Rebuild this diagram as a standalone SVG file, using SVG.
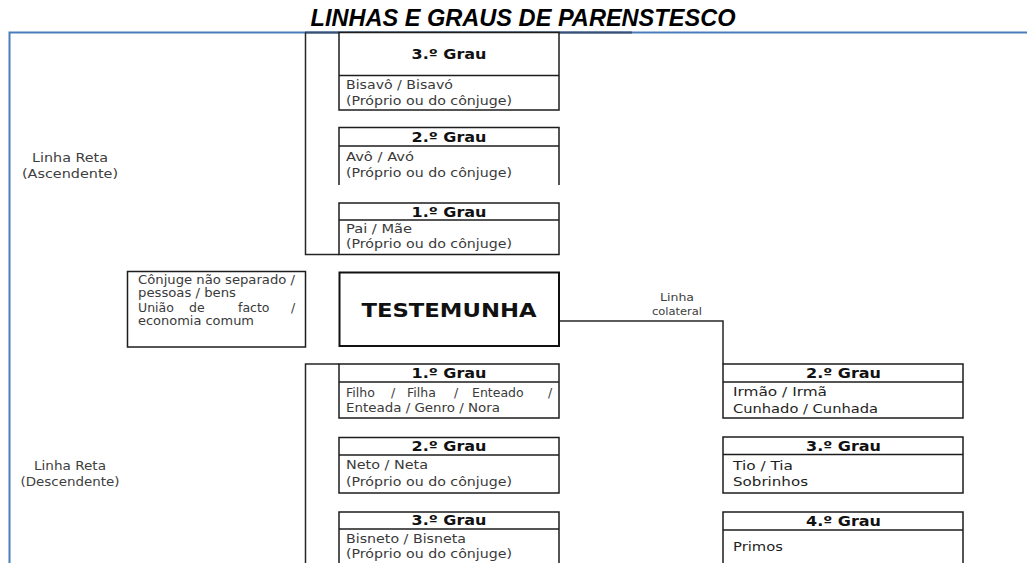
<svg xmlns="http://www.w3.org/2000/svg" width="1027" height="563" viewBox="0 0 1027 563">
<style>
.box{fill:#fff;stroke:#1c1c1c;stroke-width:1.5}
.open{fill:none;stroke:#1c1c1c;stroke-width:1.5}
.div{stroke:#1c1c1c;stroke-width:1.3}
.conn{fill:none;stroke:#262626;stroke-width:1.5}
.hdr{font-family:"DejaVu Sans",Verdana,sans-serif;font-weight:bold;font-size:14px;fill:#111;text-anchor:middle}
.body{font-family:"DejaVu Sans",Verdana,sans-serif;font-size:12.5px;fill:#3a3a3a}
.cbody{font-family:"DejaVu Sans",Verdana,sans-serif;font-size:13px;fill:#1e1e1e}
.lbl{font-family:"DejaVu Sans",Verdana,sans-serif;font-size:12.5px;fill:#404040;text-anchor:middle}
.small{font-family:"DejaVu Sans",Verdana,sans-serif;font-size:10.5px;fill:#404040;text-anchor:middle}
.title{font-family:"Liberation Sans",Arial,sans-serif;font-weight:bold;font-style:italic;font-size:23px;fill:#000;text-anchor:middle}
</style>
<rect x="0" y="0" width="1027" height="563" fill="#fff"/>
<g id="frame">
<path d="M9.5,563 V32.5 H1027" fill="none" stroke="#4a7ebb" stroke-width="2"/>
<line x1="305" y1="32.5" x2="632" y2="32.5" stroke="#3a5070" stroke-width="2"/>
</g>
<g id="title"><text class="title" x="523" y="26" textLength="425" lengthAdjust="spacingAndGlyphs">LINHAS E GRAUS DE PARENSTESCO</text></g>
<g id="connectors">
<path class="conn" d="M305.5,32.5 V254.5 H339"/>
<path class="conn" d="M339,364 H305.5 V563"/>
<path class="conn" d="M559,321 H723 V364"/>
</g>
<g id="label-ascendente">
<text class="lbl" x="70" y="161.5" textLength="76" lengthAdjust="spacingAndGlyphs">Linha Reta</text>
<text class="lbl" x="70" y="177.5" textLength="96" lengthAdjust="spacingAndGlyphs">(Ascendente)</text>
</g>
<g id="label-descendente">
<text class="lbl" x="70" y="469.5" textLength="72" lengthAdjust="spacingAndGlyphs">Linha Reta</text>
<text class="lbl" x="70" y="485.5" textLength="99" lengthAdjust="spacingAndGlyphs">(Descendente)</text>
</g>
<g id="asc-3">
<rect class="box" x="339" y="32.5" width="220" height="77.5"/>
<line class="div" x1="339" y1="75.5" x2="559" y2="75.5"/>
<text class="hdr" x="449" y="59" textLength="75" lengthAdjust="spacingAndGlyphs">3.º Grau</text>
<text class="body" x="346" y="89" textLength="107" lengthAdjust="spacingAndGlyphs">Bisavô / Bisavó</text>
<text class="body" x="346" y="104.5" textLength="166" lengthAdjust="spacingAndGlyphs">(Próprio ou do cônjuge)</text>
</g>
<g id="asc-2">
<path class="open" d="M339,185 V127.5 H559 V185"/>
<line class="div" x1="339" y1="146" x2="559" y2="146"/>
<text class="hdr" x="449" y="141.5" textLength="75" lengthAdjust="spacingAndGlyphs">2.º Grau</text>
<text class="body" x="346" y="161" textLength="68" lengthAdjust="spacingAndGlyphs">Avô / Avó</text>
<text class="body" x="346" y="176.5" textLength="166" lengthAdjust="spacingAndGlyphs">(Próprio ou do cônjuge)</text>
</g>
<g id="asc-1">
<rect class="box" x="339" y="203" width="220" height="51.5"/>
<line class="div" x1="339" y1="220" x2="559" y2="220"/>
<text class="hdr" x="449" y="216.5" textLength="75" lengthAdjust="spacingAndGlyphs">1.º Grau</text>
<text class="body" x="346" y="233" textLength="66" lengthAdjust="spacingAndGlyphs">Pai / Mãe</text>
<text class="body" x="346" y="248" textLength="166" lengthAdjust="spacingAndGlyphs">(Próprio ou do cônjuge)</text>
</g>
<g id="conjuge">
<rect class="box" x="127.5" y="271.5" width="178" height="75.5"/>
<text class="body" x="138" y="283.5" textLength="157" lengthAdjust="spacingAndGlyphs">Cônjuge não separado /</text>
<text class="body" x="138" y="297" textLength="98" lengthAdjust="spacingAndGlyphs">pessoas / bens</text>
<text class="body" y="311.5"><tspan x="138">União</tspan><tspan x="189">de</tspan><tspan x="238">facto</tspan><tspan x="291">/</tspan></text>
<text class="body" x="138" y="324.5" textLength="116" lengthAdjust="spacingAndGlyphs">economia comum</text>
</g>
<g id="testemunha">
<rect x="339.5" y="272.5" width="219.5" height="73.5" fill="#fff" stroke="#111" stroke-width="2"/>
<text x="449" y="317" text-anchor="middle" font-family="DejaVu Sans, Verdana, sans-serif" font-weight="bold" font-size="19" fill="#111" textLength="175" lengthAdjust="spacingAndGlyphs">TESTEMUNHA</text>
</g>
<g id="label-colateral">
<text class="small" x="677" y="301" textLength="34" lengthAdjust="spacingAndGlyphs">Linha</text>
<text class="small" x="677" y="315" textLength="50" lengthAdjust="spacingAndGlyphs">colateral</text>
</g>
<g id="desc-1">
<rect class="box" x="339" y="364" width="220" height="54"/>
<line class="div" x1="339" y1="382" x2="559" y2="382"/>
<text class="hdr" x="449" y="377.5" textLength="75" lengthAdjust="spacingAndGlyphs">1.º Grau</text>
<text class="body" y="397" font-size="13"><tspan x="346">Filho</tspan><tspan x="391">/</tspan><tspan x="407">Filha</tspan><tspan x="454">/</tspan><tspan x="472">Enteado</tspan><tspan x="548">/</tspan></text>
<text class="body" x="346" y="411.5" textLength="154" lengthAdjust="spacingAndGlyphs">Enteada / Genro / Nora</text>
</g>
<g id="desc-2">
<rect class="box" x="339" y="437.5" width="220" height="55.5"/>
<line class="div" x1="339" y1="455" x2="559" y2="455"/>
<text class="hdr" x="449" y="451" textLength="75" lengthAdjust="spacingAndGlyphs">2.º Grau</text>
<text class="body" x="346" y="469" textLength="82" lengthAdjust="spacingAndGlyphs">Neto / Neta</text>
<text class="body" x="346" y="485.5" textLength="166" lengthAdjust="spacingAndGlyphs">(Próprio ou do cônjuge)</text>
</g>
<g id="desc-3">
<path class="open" d="M339,563 V512 H559 V563"/>
<line class="div" x1="339" y1="529" x2="559" y2="529"/>
<text class="hdr" x="449" y="525" textLength="75" lengthAdjust="spacingAndGlyphs">3.º Grau</text>
<text class="body" x="346" y="542.5" textLength="120" lengthAdjust="spacingAndGlyphs">Bisneto / Bisneta</text>
<text class="body" x="346" y="558" textLength="166" lengthAdjust="spacingAndGlyphs">(Próprio ou do cônjuge)</text>
</g>
<g id="col-2">
<rect class="box" x="723" y="364" width="240" height="54"/>
<line class="div" x1="723" y1="382" x2="963" y2="382"/>
<text class="hdr" x="843.5" y="377.5" textLength="75" lengthAdjust="spacingAndGlyphs">2.º Grau</text>
<text class="cbody" x="733" y="395.5" textLength="94" lengthAdjust="spacingAndGlyphs">Irmão / Irmã</text>
<text class="cbody" x="733" y="412.5" textLength="145" lengthAdjust="spacingAndGlyphs">Cunhado / Cunhada</text>
</g>
<g id="col-3">
<rect class="box" x="723" y="437" width="240" height="56"/>
<line class="div" x1="723" y1="454.5" x2="963" y2="454.5"/>
<text class="hdr" x="843.5" y="451" textLength="75" lengthAdjust="spacingAndGlyphs">3.º Grau</text>
<text class="cbody" x="733" y="469.5" textLength="60" lengthAdjust="spacingAndGlyphs">Tio / Tia</text>
<text class="cbody" x="733" y="486" textLength="75" lengthAdjust="spacingAndGlyphs">Sobrinhos</text>
</g>
<g id="col-4">
<path class="open" d="M723,563 V512 H963 V563"/>
<line class="div" x1="723" y1="530" x2="963" y2="530"/>
<text class="hdr" x="843.5" y="525.5" textLength="75" lengthAdjust="spacingAndGlyphs">4.º Grau</text>
<text class="cbody" x="733" y="551" textLength="50" lengthAdjust="spacingAndGlyphs">Primos</text>
</g>
</svg>
